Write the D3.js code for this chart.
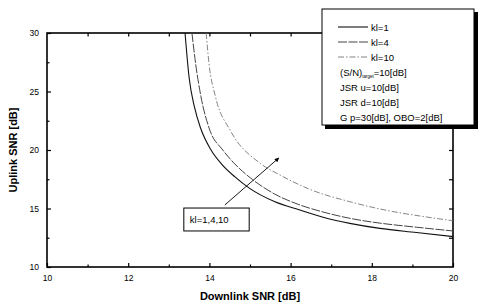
<!DOCTYPE html>
<html>
<head>
<meta charset="utf-8">
<script src="https://cdn.jsdelivr.net/npm/d3@7"></script>
<style>
body{margin:0;background:#fff;}
svg{display:block;font-family:"Liberation Sans",Arial,sans-serif;}
</style>
</head>
<body>
<svg id="chart"></svg>
<script>
// curves: downlink SNR (x) / uplink SNR (y)
var kl1D=[13.40,13.50,13.63,13.78,14.04,14.30,14.63,15.0,15.6,16.23,16.8,17.46,18.2,19.1,20]
var kl1U=[30,26.2,23.7,21.9,20,18.8,17.7,16.7,15.6,14.87,14.25,13.73,13.3,12.95,12.6]
var kl4D=[13.57,13.66,13.79,14.0,14.33,14.6,15.07,15.6,16.23,16.8,17.46,18.2,19.1,20]
var kl4U=[30,27.4,24.6,21.8,20,18.9,17.45,16.25,15.3,14.7,14.16,13.75,13.4,13.08]
var kl10D=[13.92,13.99,14.15,14.51,15.25,15.74,16.5,17.46,18.5,19.3,20]
var kl10U=[30,27.4,24.55,21.7,18.86,17.86,16.6,15.58,14.75,14.3,13.95]

var xTicks=[10,12,14,16,18,20]
var yTicks=[10,15,20,25,30]
var legendNames=["kl=1","kl=4","kl=10"]
var noteLines=["JSR u=10[dB]","JSR d=10[dB]","G p=30[dB], OBO=2[dB]"]

var screen={width:478,height:308}
var svg=d3.select("#chart")
    .attr("width",screen.width)
    .attr("height",screen.height)

var xScale=d3.scaleLinear().domain([10,20]).range([47,453])
var yScale=d3.scaleLinear().domain([10,30]).range([267,33])

var zip=function(xs,ys){
    return xs.map(function(d,i){return {x:d,y:ys[i]}})
}
var series=[
    {name:"kl=1",pts:zip(kl1D,kl1U),dash:null,color:"#111",w:1.1},
    {name:"kl=4",pts:zip(kl4D,kl4U),dash:"9,1.5",color:"#444",w:1},
    {name:"kl=10",pts:zip(kl10D,kl10U),dash:"6,2,1.5,2",color:"#777",w:0.9}
]

//axes, ticks inward
var tickStyle=function(g){
    g.select(".domain").remove()
    g.selectAll("line").attr("stroke","#000").attr("stroke-width",1.2)
    g.selectAll("text").attr("font-size",8.5).attr("fill","#000")
}
svg.append("g").attr("transform","translate(0,267)")
    .call(d3.axisBottom(xScale).tickValues(xTicks).tickSizeInner(-4).tickSizeOuter(0).tickPadding(8).tickFormat(d3.format("d")))
    .call(tickStyle)
svg.append("g").attr("transform","translate(0,267)")
    .call(d3.axisBottom(xScale).tickValues([11,13,15,17,19]).tickSizeInner(-2.5).tickSizeOuter(0).tickFormat(""))
    .call(tickStyle)
svg.append("g").attr("transform","translate(0,33)")
    .call(d3.axisTop(xScale).tickValues(d3.range(11,20)).tickSizeInner(-3.5).tickSizeOuter(0).tickFormat(""))
    .call(tickStyle)
svg.append("g").attr("transform","translate(47,0)")
    .call(d3.axisLeft(yScale).tickValues(yTicks).tickSizeInner(-4).tickSizeOuter(0).tickPadding(8).tickFormat(d3.format("d")))
    .call(tickStyle)
svg.append("g").attr("transform","translate(47,0)")
    .call(d3.axisLeft(yScale).tickValues([12.5,17.5,22.5,27.5]).tickSizeInner(-2.5).tickSizeOuter(0).tickFormat(""))
    .call(tickStyle)
svg.append("g").attr("transform","translate(453,0)")
    .call(d3.axisRight(yScale).tickValues([12.5,15,17.5,20,22.5]).tickSizeInner(-4).tickSizeOuter(0).tickFormat(""))
    .call(tickStyle)

//frame
svg.append("rect")
    .attr("x",xScale(10)).attr("y",yScale(30))
    .attr("width",xScale(20)-xScale(10)).attr("height",yScale(10)-yScale(30))
    .attr("fill","none").attr("stroke","#000").attr("stroke-width",1.6)

var line=d3.line()
    .x(function(d){return xScale(d.x)})
    .y(function(d){return yScale(d.y)})
    .curve(d3.curveMonotoneX)

svg.selectAll(".curve")
    .data(series)
    .enter()
    .append("path")
    .attr("class","curve")
    .attr("d",function(s){return line(s.pts)})
    .attr("fill","none")
    .attr("stroke",function(s){return s.color})
    .attr("stroke-width",function(s){return s.w})
    .attr("stroke-dasharray",function(s){return s.dash})

//arrow + annotation box
svg.append("defs").append("marker")
    .attr("id","head").attr("viewBox","0 0 10 10")
    .attr("refX",9).attr("refY",5)
    .attr("markerWidth",7).attr("markerHeight",5)
    .attr("orient","auto")
    .append("path").attr("d","M0,0L10,5L0,10z").attr("fill","#000")
svg.append("line")
    .attr("x1",xScale(14.38)).attr("y1",yScale(15.3))
    .attr("x2",xScale(15.71)).attr("y2",yScale(19.32))
    .attr("stroke","#000").attr("stroke-width",0.9)
    .attr("marker-end","url(#head)")
svg.append("rect")
    .attr("x",xScale(13.37)).attr("y",yScale(15.04))
    .attr("width",xScale(14.98)-xScale(13.37)).attr("height",yScale(13.08)-yScale(15.04))
    .attr("fill","#fff").attr("stroke","#000").attr("stroke-width",1)
svg.append("text")
    .attr("x",xScale(13.37)+6).attr("y",yScale(14.06)+3.5)
    .attr("font-size",9.5).text("kl=1,4,10")

//legend box with shadow
var lg=svg.append("g")
lg.append("rect").attr("x",325).attr("y",12).attr("width",153).attr("height",117).attr("fill","#000")
lg.append("rect").attr("x",322).attr("y",9).attr("width",152).attr("height",116)
    .attr("fill","#fff").attr("stroke","#000").attr("stroke-width",1)
lg.selectAll(".lgline")
    .data(series)
    .enter()
    .append("line")
    .attr("x1",338).attr("x2",368)
    .attr("y1",function(s,i){return 27+i*15}).attr("y2",function(s,i){return 27+i*15})
    .attr("stroke",function(s){return s.color})
    .attr("stroke-width",function(s){return s.w})
    .attr("stroke-dasharray",function(s){return s.dash})
lg.selectAll(".lgtext")
    .data(legendNames)
    .enter()
    .append("text")
    .attr("x",371).attr("y",function(d,i){return 30.5+i*15})
    .attr("font-size",9.5).text(function(d){return d})
var sn=lg.append("text").attr("x",340).attr("y",75.5).attr("font-size",9.5)
sn.append("tspan").text("(S/N)")
sn.append("tspan").attr("font-size",4.5).attr("dy",2).text("target")
sn.append("tspan").attr("dy",-2).text("=10[dB]")
lg.selectAll(".note")
    .data(noteLines)
    .enter()
    .append("text")
    .attr("x",340).attr("y",function(d,i){return 91+i*15.2})
    .attr("font-size",9.5).text(function(d){return d})

//axis titles
svg.append("text")
    .attr("x",250).attr("y",300).attr("text-anchor","middle")
    .attr("font-size",11).attr("font-weight","bold").text("Downlink SNR [dB]")
svg.append("text")
    .attr("transform","translate(17,150) rotate(-90)").attr("text-anchor","middle")
    .attr("font-size",11).attr("font-weight","bold").text("Uplink SNR [dB]")
</script>
</body>
</html>
